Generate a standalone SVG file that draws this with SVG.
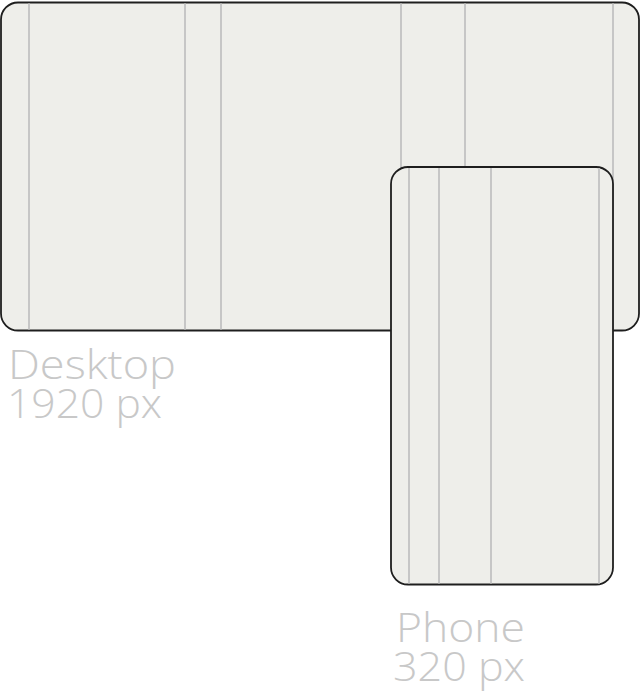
<svg xmlns="http://www.w3.org/2000/svg" width="640" height="691" viewBox="0 0 640 691">
<style>
.frame{fill:#eeeeea;stroke:#1e1e1e;stroke-width:1.8}
.col{stroke:#c6c6c6;stroke-width:2}
.lbl{font-family:"Open Sans","Noto Sans",sans-serif;font-size:41px;font-weight:300;fill:#c8c8c8}
</style>
<g id="desktop">
<rect class="frame" x="1" y="2.5" width="638" height="328" rx="17"/>
<g class="col">
<line x1="29" y1="3.5" x2="29" y2="329.5"/>
<line x1="185" y1="3.5" x2="185" y2="329.5"/>
<line x1="221" y1="3.5" x2="221" y2="329.5"/>
<line x1="401" y1="3.5" x2="401" y2="329.5"/>
<line x1="465" y1="3.5" x2="465" y2="329.5"/>
<line x1="613" y1="3.5" x2="613" y2="329.5"/>
</g>
<text class="lbl" x="8" y="379" textLength="168" lengthAdjust="spacingAndGlyphs">Desktop</text>
<text class="lbl" x="7" y="418" textLength="155" lengthAdjust="spacingAndGlyphs">1920 px</text>
</g>
<g id="phone">
<rect class="frame" x="391" y="167" width="222" height="417.5" rx="17"/>
<g class="col">
<line x1="409" y1="168" x2="409" y2="583.5"/>
<line x1="439" y1="168" x2="439" y2="583.5"/>
<line x1="491" y1="168" x2="491" y2="583.5"/>
<line x1="599" y1="168" x2="599" y2="583.5"/>
</g>
<text class="lbl" x="396" y="642" textLength="129" lengthAdjust="spacingAndGlyphs">Phone</text>
<text class="lbl" x="393" y="681" textLength="132" lengthAdjust="spacingAndGlyphs">320 px</text>
</g>
</svg>
